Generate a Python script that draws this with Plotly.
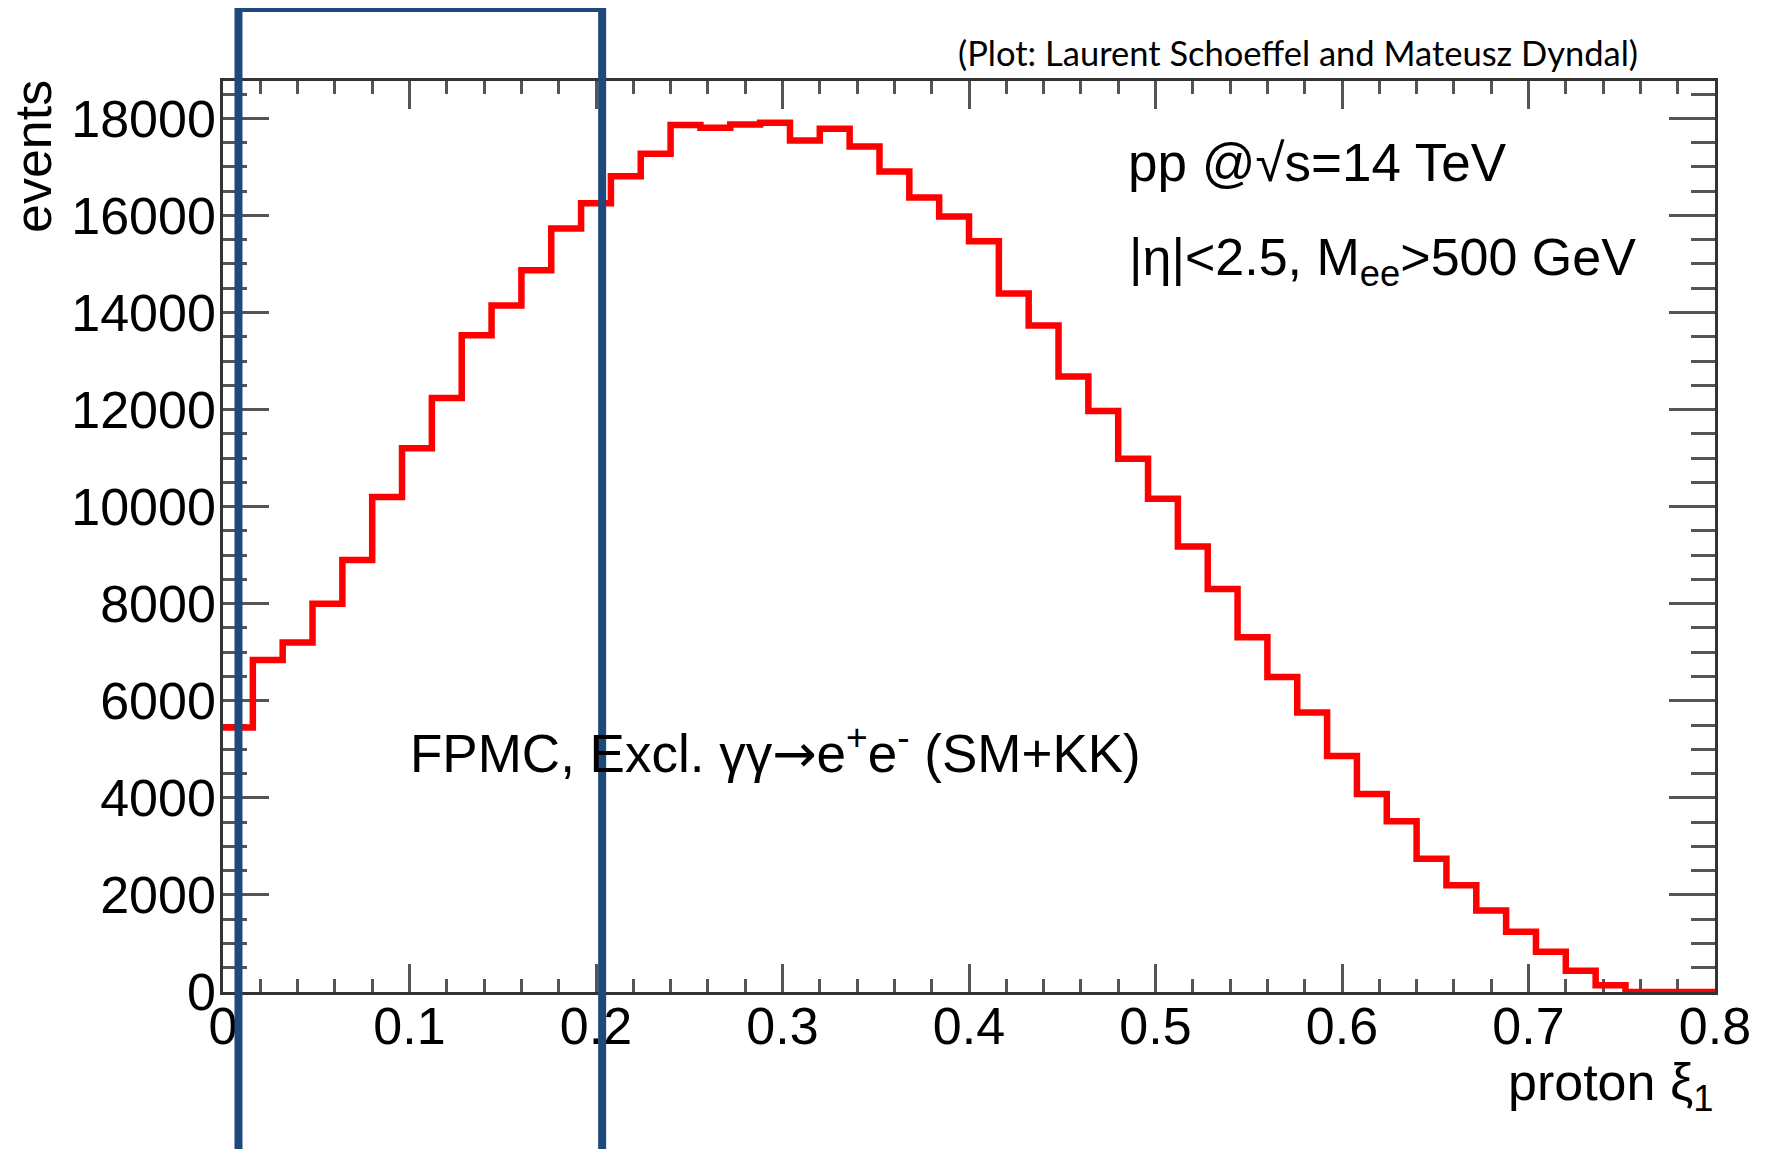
import plotly.graph_objects as go

# ---- data ----
bin_edges = [0.000, 0.016, 0.032, 0.048, 0.064, 0.080, 0.096, 0.112, 0.128, 0.144,
             0.160, 0.176, 0.192, 0.208, 0.224, 0.240, 0.256, 0.272, 0.288, 0.304,
             0.320, 0.336, 0.352, 0.368, 0.384, 0.400, 0.416, 0.432, 0.448, 0.464,
             0.480, 0.496, 0.512, 0.528, 0.544, 0.560, 0.576, 0.592, 0.608, 0.624,
             0.640, 0.656, 0.672, 0.688, 0.704, 0.720, 0.736, 0.752, 0.768, 0.784,
             0.800]
events = [5450, 6840, 7200, 8000, 8900, 10200, 11205, 12240, 13530, 14145,
          14870, 15730, 16250, 16805, 17270, 17865, 17805, 17875, 17910, 17545,
          17785, 17420, 16905, 16368, 15978, 15468, 14390, 13730, 12680, 11970,
          10985, 10165, 9180, 8305, 7309, 6491, 5759, 4860, 4080, 3520,
          2745, 2200, 1680, 1240, 830, 440, 140, 0, 0, 0]
x_ticks = [0, 0.1, 0.2, 0.3, 0.4, 0.5, 0.6, 0.7, 0.8]
y_ticks = [0, 2000, 4000, 6000, 8000, 10000, 12000, 14000, 16000, 18000]

# page offset of the plotly div (default body margin)
OFF = 8
W, H = 1769 - OFF, 1149 - OFF
L, T = 223 - OFF, 81 - OFF
R = W - (1715 - OFF)
B = H - (992 - OFF)
PW, PH = W - L - R, H - T - B

def px_x(p):
    # page pixel -> paper x
    return (p - OFF - L) / PW

def px_y(p):
    # page pixel -> paper y
    return (H - B - (p - OFF)) / PH

FONT = "Liberation Sans, Arial, Helvetica, sans-serif"

fig = go.Figure()
fig.add_trace(go.Scatter(
    x=bin_edges,
    y=events + [events[-1]],
    mode="lines",
    line=dict(color="#FF0000", width=6.5, shape="hv"),
    showlegend=False,
    hoverinfo="skip",
))

axis_common = dict(
    showline=True, linecolor="#333333", linewidth=2.5, mirror="ticks",
    ticks="inside", tickcolor="#555555", tickwidth=2.5,
    showgrid=False, zeroline=False,
    tickfont=dict(family=FONT, size=52, color="black"),
    layer="below traces",
)
fig.update_xaxes(range=[0, 0.8], tickvals=x_ticks, ticktext=[f"{v:g}" for v in x_ticks],
                 ticklen=28, ticklabelstandoff=-13,
                 minor=dict(dtick=0.02, ticklen=13, ticks="inside", tickcolor="#555555", tickwidth=2.5),
                 **axis_common)
fig.update_yaxes(range=[0, 18770], tickvals=y_ticks, ticktext=[str(v) for v in y_ticks],
                 ticklen=46, ticklabelstandoff=-6,
                 minor=dict(dtick=500, ticklen=24, ticks="inside", tickcolor="#555555", tickwidth=2.5),
                 **axis_common)

arrow = '<span style="font-family:DejaVu Sans">→</span>'
annots = [
    dict(text="events", x=px_x(33), y=px_y(157), textangle=-90, xanchor="center", yanchor="middle",
         font=dict(family=FONT, size=52, color="black")),
    dict(text="proton ξ<sub>1</sub>", x=1.0, y=px_y(1086), xanchor="right", yanchor="middle",
         font=dict(family=FONT, size=52, color="black")),
    dict(text="pp @√s=14 TeV", x=px_x(1126), y=px_y(162), xanchor="left", yanchor="middle",
         font=dict(family=FONT, size=53, color="black")),
    dict(text="|η|<2.5, M<sub>ee</sub>>500 GeV", x=px_x(1127), y=px_y(261), xanchor="left", yanchor="middle",
         font=dict(family=FONT, size=52, color="black")),
    dict(text="FPMC, Excl. γγ" + arrow + "e<sup>+</sup>e<sup>-</sup> (SM+KK)", x=px_x(408), y=px_y(750),
         xanchor="left", yanchor="middle",
         font=dict(family=FONT, size=53, color="black")),
    dict(text="(Plot: Laurent Schoeffel and Mateusz Dyndal)", x=px_x(1640), y=px_y(52),
         xanchor="right", yanchor="middle",
         font=dict(family="Lato, Open Sans, sans-serif", size=34.5, color="black")),
]
for a in annots:
    a.update(xref="paper", yref="paper", showarrow=False)

fig.update_layout(
    width=W, height=H,
    margin=dict(l=L, r=R, t=T, b=B),
    paper_bgcolor="white", plot_bgcolor="white",
    annotations=annots,
    shapes=[dict(type="rect", xref="x", yref="paper",
                 x0=0.0083, x1=0.2033, y0=px_y(1175), y1=px_y(8),
                 line=dict(color="#1F497D", width=8), fillcolor="rgba(0,0,0,0)",
                 layer="above")],
)

fig.write_html("out.html")
